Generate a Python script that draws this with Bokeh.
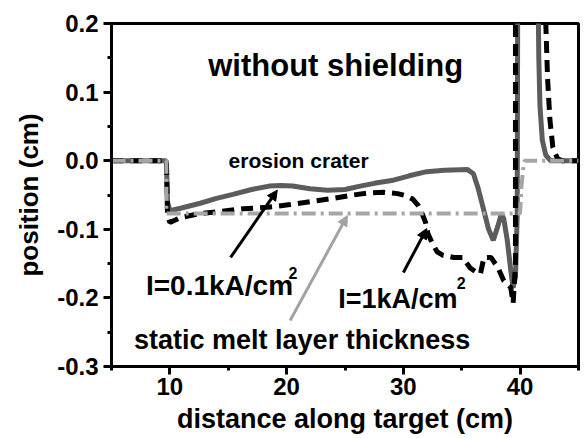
from bokeh.plotting import figure
from bokeh.models import Range1d, FixedTicker, PrintfTickFormatter, Arrow, NormalHead, Label
from bokeh.embed import file_html
from bokeh.resources import INLINE

# ---- data ----
x_low = [5, 9.7, 9.8, 10.0, 11.0, 12.6, 14.0, 15.4, 17.0, 18.5, 19.5, 20.5, 22.0, 23.5, 25.0,
         26.3, 27.5, 29.0, 30.5, 32.0, 33.5, 35.5, 36.0, 36.4, 36.9, 37.3, 37.7, 38.1, 38.4,
         38.6, 38.9, 39.2, 39.4, 39.6, 39.75, 39.8, 41.5, 41.6, 41.7, 41.9, 42.2, 42.6, 45]
y_low = [0, 0, -0.06, -0.073, -0.069, -0.062, -0.055, -0.049, -0.042, -0.037, -0.036, -0.037,
         -0.041, -0.043, -0.042, -0.037, -0.033, -0.029, -0.022, -0.016, -0.014, -0.013, -0.019,
         -0.04, -0.073, -0.10, -0.116, -0.095, -0.077, -0.085, -0.116, -0.16, -0.185, -0.17,
         -0.08, 0.3, 0.3, 0.15, 0.08, 0.03, 0.008, 0.0, 0.0]

x_high = [5, 9.7, 9.8, 10.0, 10.9, 12.6, 14.3, 16.3, 18.3, 20.3, 22.3, 24.0, 25.7, 27.0, 28.3,
          29.5, 30.2, 30.8, 31.3, 31.6, 31.9, 32.1, 32.5, 32.9, 33.4, 34.3, 35.1, 35.7, 36.2,
          36.6, 36.9, 37.5, 38.1, 38.6, 39.2, 39.4, 39.6, 39.6, 42.1, 42.2, 42.35, 42.55, 42.8,
          43.2, 43.6, 45]
y_high = [0, 0, -0.08, -0.09, -0.083, -0.077, -0.074, -0.070, -0.068, -0.064, -0.059, -0.055,
          -0.050, -0.047, -0.046, -0.048, -0.051, -0.056, -0.066, -0.077, -0.09, -0.106, -0.121,
          -0.133, -0.138, -0.141, -0.141, -0.156, -0.162, -0.165, -0.141, -0.141, -0.156, -0.175,
          -0.185, -0.208, -0.15, 0.35, 0.35, 0.2, 0.12, 0.06, 0.02, 0.003, 0.0, 0.0]

x_melt = [5, 9.7, 9.7, 40.0, 40.1, 40.3, 40.4, 45]
y_melt = [0, 0, -0.077, -0.077, -0.04, -0.005, 0.0, 0.0]

x_ticks = [10, 20, 30, 40]
x_minor = [5, 15, 25, 35, 45]
y_ticks = [-0.3, -0.2, -0.1, 0.0, 0.1, 0.2]
y_minor = [-0.25, -0.15, -0.05, 0.05, 0.15]

ann_text = ["without shielding", "erosion crater", "I=0.1kA/cm", "2", "I=1kA/cm", "2",
            "static melt layer thickness"]
ann_x = [24.2, 15.03, 7.95, 20.15, 24.42, 34.57, 6.93]
ann_y = [0.139, 0.0003, -0.182, -0.163, -0.201, -0.178, -0.262]
ann_size = ["31px", "21px", "28px", "16px", "27px", "16px", "27px"]
ann_align = ["center", "left", "left", "left", "left", "left", "left"]

arrow_x0 = [15.2, 30.0, 20.3]
arrow_y0 = [-0.141, -0.163, -0.233]
arrow_x1 = [19.2, 32.0, 25.2]
arrow_y1 = [-0.043, -0.099, -0.080]
arrow_color = ["black", "black", "#a3a3a3"]

FONT = "Liberation Sans"

p = figure(width=584, height=438, x_range=Range1d(5, 45), y_range=Range1d(-0.3, 0.2),
           output_backend="svg", toolbar_location=None,
           min_border_left=111, min_border_right=6, min_border_top=23, min_border_bottom=72)
p.background_fill_color = "white"
p.border_fill_color = "white"
p.outline_line_color = "black"
p.outline_line_width = 3
p.outline_line_alpha = 1
p.xgrid.visible = False
p.ygrid.visible = False

p.line(x_low, y_low, color="#5c5c5c", line_width=5)
p.line(x_high, y_high, color="black", line_width=5, line_dash="12 7")
p.line(x_melt, y_melt, color="#a6a6a6", line_width=4, line_dash="14 5 3 5")

for ax, ticks, minor in ((p.xaxis[0], x_ticks, x_minor), (p.yaxis[0], y_ticks, y_minor)):
    ax.ticker = FixedTicker(ticks=ticks, minor_ticks=minor)
    ax.axis_line_width = 3
    ax.axis_line_color = "black"
    ax.major_tick_line_width = 3
    ax.major_tick_out = 8
    ax.major_tick_in = 0
    ax.minor_tick_line_width = 3
    ax.minor_tick_out = 4
    ax.minor_tick_in = 0
    ax.major_label_text_font = FONT
    ax.major_label_text_font_style = "bold"
    ax.major_label_text_font_size = "24px"
    ax.major_label_text_color = "black"
    ax.axis_label_text_font = FONT
    ax.axis_label_text_font_style = "bold"
    ax.axis_label_text_color = "black"

p.xaxis.formatter = PrintfTickFormatter(format="%d")
p.yaxis.formatter = PrintfTickFormatter(format="%.1f")
p.xaxis.axis_label = "distance along target (cm)"
p.yaxis.axis_label = "position (cm)"
p.xaxis.axis_label_text_font_size = "27px"
p.yaxis.axis_label_text_font_size = "26px"
p.xaxis.major_label_standoff = 3
p.xaxis.axis_label_standoff = 6
p.yaxis.major_label_standoff = 5
p.yaxis.axis_label_standoff = 10

for t, x, y, s, a in zip(ann_text, ann_x, ann_y, ann_size, ann_align):
    p.add_layout(Label(x=x, y=y, text=t, text_font=FONT, text_font_style="bold",
                       text_font_size=s, text_color="black", text_align=a,
                       text_baseline="alphabetic"))

for x0, y0, x1, y1, c in zip(arrow_x0, arrow_y0, arrow_x1, arrow_y1, arrow_color):
    p.add_layout(Arrow(x_start=x0, y_start=y0, x_end=x1, y_end=y1, line_color=c, line_width=3,
                       end=NormalHead(size=10, fill_color=c, line_color=c, line_width=1)))

open("out.html", "w").write(file_html(p, INLINE))
